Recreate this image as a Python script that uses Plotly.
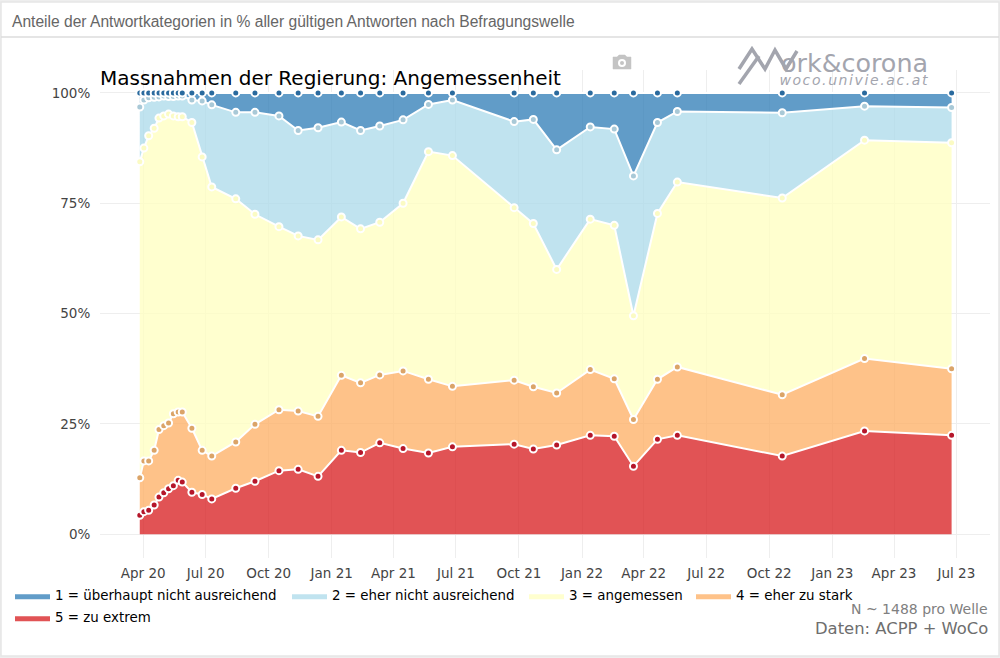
import numpy as np
import plotly.graph_objects as go

dates = ["2020-03-27","2020-04-02","2020-04-09","2020-04-17","2020-04-24","2020-05-01","2020-05-08","2020-05-15","2020-05-22","2020-05-28","2020-06-11","2020-06-26","2020-07-10","2020-08-14","2020-09-11","2020-10-16","2020-11-13","2020-12-12","2021-01-15","2021-02-12","2021-03-12","2021-04-15","2021-05-22","2021-06-26","2021-09-24","2021-10-22","2021-11-25","2022-01-13","2022-02-17","2022-03-17","2022-04-21","2022-05-20","2022-10-20","2023-02-17","2023-06-24"]

zu_extrem = [4.3,5.1,5.4,6.6,8.4,9.4,10.3,11.0,12.2,11.8,9.5,9.0,8.0,10.4,12.0,14.4,14.7,13.1,19.0,18.5,20.7,19.4,18.4,19.8,20.4,19.3,20.2,22.4,22.2,15.4,21.5,22.4,17.7,23.4,22.4]
eher_zu_stark = [8.5,11.5,11.2,12.4,15.3,15.2,14.9,16.3,15.5,15.9,14.5,10.0,9.7,10.5,12.9,13.8,13.2,13.6,17.0,15.8,15.4,17.6,16.7,13.7,14.5,14.1,11.8,14.9,13.0,10.6,13.6,15.5,13.9,16.4,15.1]
angemessen = [71.6,70.9,73.7,73.0,70.6,70.2,70.0,67.5,66.9,66.9,69.3,66.5,61.0,55.1,47.6,41.5,39.7,40.0,35.9,34.9,34.6,38.0,51.6,52.3,39.1,37.0,28.0,34.1,34.8,23.5,37.6,41.9,44.6,49.5,51.2]
eher_nicht = [12.4,10.9,8.6,7.0,4.8,4.5,4.0,4.4,4.7,4.7,5.1,12.7,18.6,19.6,23.1,25.1,23.9,25.4,21.5,22.3,21.8,18.9,10.7,12.6,19.5,23.6,27.1,20.9,21.8,31.7,20.6,16.0,19.3,7.7,8.0]
ueberhaupt_nicht = [3.2,1.6,1.1,1.0,0.9,0.7,0.8,0.8,0.7,0.7,1.6,1.8,2.7,4.4,4.4,5.2,8.5,7.9,6.6,8.5,7.5,6.1,2.6,1.6,6.5,6.0,12.9,7.7,8.2,18.8,6.7,4.2,4.5,3.0,3.3]

series_names = ["5 = zu extrem","4 = eher zu stark","3 = angemessen","2 = eher nicht ausreichend","1 = überhaupt nicht ausreichend"]
series_values = [zu_extrem, eher_zu_stark, angemessen, eher_nicht, ueberhaupt_nicht]
fill_colors = ["rgba(215,25,28,0.75)","rgba(253,174,97,0.75)","rgba(255,255,191,0.75)","rgba(171,217,233,0.75)","rgba(44,123,182,0.75)"]
marker_colors = ["#b5162a","#dba468","#fbfbc4","#a9c9d7","#2a6a9e"]

tick_dates = ["2020-04-01","2020-07-01","2020-10-01","2021-01-01","2021-04-01","2021-07-01","2021-10-01","2022-01-01","2022-04-01","2022-07-01","2022-10-01","2023-01-01","2023-04-01","2023-07-01"]
tick_labels = ["Apr 20","Jul 20","Oct 20","Jan 21","Apr 21","Jul 21","Oct 21","Jan 22","Apr 22","Jul 22","Oct 22","Jan 23","Apr 23","Jul 23"]
y_ticks = [0,25,50,75,100]
y_labels = ["0%","25%","50%","75%","100%"]

W, H = 1000, 658
L, R, T, B = 100, 10, 70, 100
def X(px): return (px - L) / (W - L - R)
def Y(py): return (H - B - py) / (H - T - B)
def P(*pts):
    return "M" + " L".join(f"{X(a):.5f},{Y(b):.5f}" for a, b in pts)

legend_keys = ["legend5","legend4","legend3","legend2","legend"]
fig = go.Figure()
for name, vals, key, fc in zip(series_names, series_values, legend_keys, fill_colors):
    fig.add_trace(go.Scatter(x=dates, y=vals, name=name, mode="lines", stackgroup="a",
                             line=dict(color="white", width=2), fillcolor=fc,
                             legend=key, hoverinfo="skip"))
cum = np.cumsum(np.array(series_values), axis=0)
for row, mc in zip(cum, marker_colors):
    fig.add_trace(go.Scatter(x=dates, y=row, mode="markers", showlegend=False, hoverinfo="skip",
                             marker=dict(size=7, color=mc, line=dict(color="white", width=2))))

paper = dict(xref="paper", yref="paper")
LOGO = "#a3a5ae"
CAM = "#c4c4c4"
shapes = [
    dict(type="rect", x0=X(1), x1=X(999), y0=Y(2), y1=Y(656), fillcolor="white", line=dict(color="#e6e6e6", width=1.5), layer="below", **paper),
    dict(type="line", x0=X(1), x1=X(999), y0=Y(37), y1=Y(37), line=dict(color="#dddddd", width=1.5), layer="below", **paper),
    dict(type="path", path=P((739,69),(752,49),(765,69),(775,50),(786,69),(797,51)), line=dict(color=LOGO, width=3.5), layer="above", **paper),
    dict(type="path", path=P((739,84),(759,56)), line=dict(color=LOGO, width=3.5), layer="above", **paper),
    dict(type="path", path=P((613,57),(617,57),(619,55),(625,55),(627,57),(631,57),(631,69),(613,69)) + " Z", fillcolor=CAM, line=dict(color=CAM, width=0.5), layer="above", **paper),
    dict(type="circle", x0=X(618), x1=X(626), y0=Y(67), y1=Y(59), fillcolor="white", line=dict(width=0), layer="above", **paper),
    dict(type="circle", x0=X(620), x1=X(624), y0=Y(65), y1=Y(61), fillcolor=CAM, line=dict(width=0), layer="above", **paper),
]

def note(px, py, text, size, color, family, anchor="left", style="normal"):
    return dict(x=X(px), y=Y(py), text=text, showarrow=False, xanchor=anchor, yanchor="middle",
                font=dict(size=size, color=color, family=family, style=style), **paper)

annotations = [
    note(10, 22, "Anteile der Antwortkategorien in % aller gültigen Antworten nach Befragungswelle", 15.6, "#666666", "Liberation Sans"),
    note(98, 78, "Massnahmen der Regierung: Angemessenheit", 20, "black", "DejaVu Sans"),
    note(930, 63, "ork&corona", 25.4, LOGO, "DejaVu Sans", "right"),
    note(854, 80, "woco.univie.ac.at", 14, LOGO, "DejaVu Sans", "center", "italic"),
    note(990, 609, "N ~ 1488 pro Welle", 14, "#808080", "DejaVu Sans", "right"),
    note(990, 628, "Daten: ACPP + WoCo", 16.4, "#6e6e6e", "DejaVu Sans", "right"),
]

def legend_at(px, py):
    return dict(orientation="h", x=X(px), y=Y(py), xanchor="left", yanchor="top", itemwidth=35,
                font=dict(size=13.4, color="black", family="DejaVu Sans"), bgcolor="rgba(0,0,0,0)")

fig.update_layout(
    width=W, height=H, margin=dict(l=L, r=R, t=T, b=B),
    paper_bgcolor="#eeeeee", plot_bgcolor="rgba(0,0,0,0)",
    showlegend=True,
    legend=legend_at(10, 580),
    legend2=legend_at(287, 580),
    legend3=legend_at(524, 580),
    legend4=legend_at(691, 580),
    legend5=legend_at(10, 602),
    xaxis=dict(type="date", range=["2020-01-29","2023-08-19"], tickvals=tick_dates, ticktext=tick_labels,
               gridcolor="#eeeeee", zeroline=False, showline=False, ticks="outside", ticklen=3, tickcolor="rgba(0,0,0,0)",
               tickfont=dict(size=13.5, color="#444444", family="DejaVu Sans")),
    yaxis=dict(range=[-5.4,105.2], tickvals=y_ticks, ticktext=y_labels, gridcolor="#eeeeee", zeroline=False,
               ticks="outside", ticklen=6, tickcolor="rgba(0,0,0,0)",
               tickfont=dict(size=13.5, color="#444444", family="DejaVu Sans")),
    shapes=shapes, annotations=annotations,
)
post = """document.body.style.margin='0';document.body.style.overflow='hidden';
document.querySelectorAll('.annotation-text').forEach(function(t){
  if(t.textContent.indexOf('woco.')===0){t.style.letterSpacing='1.6px';}
});"""
fig.write_html("out.html", post_script=post, config={"displayModeBar": False})
